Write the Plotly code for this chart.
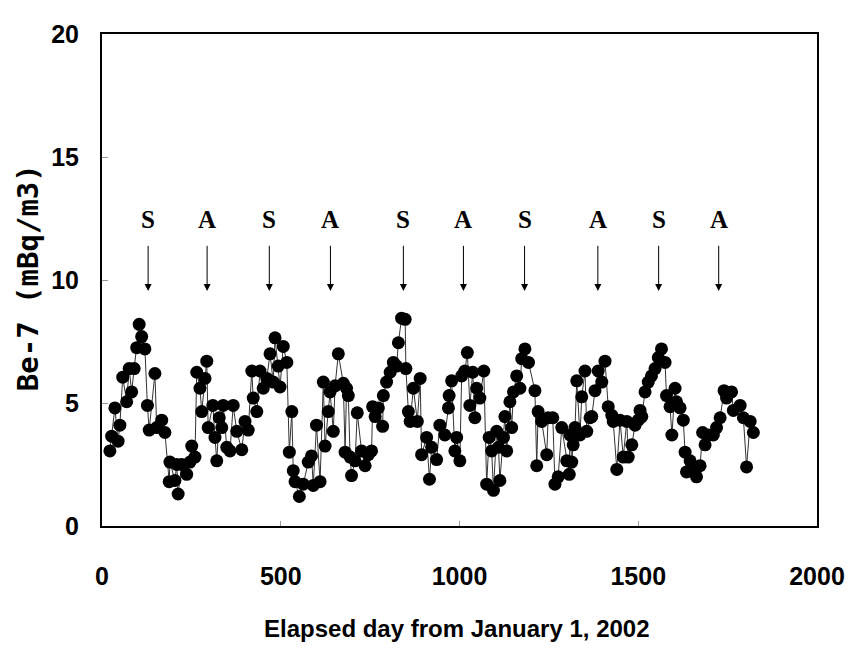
import plotly.graph_objects as go

# elapsed day and Be-7 concentration (mBq/m3)
days = [22, 27, 36, 45, 50, 58, 69, 76, 83, 90, 97, 104, 111, 120, 127, 132, 148, 153,
        167, 176, 188, 190, 204, 209, 213, 223, 237, 246, 251, 260, 265, 274, 279, 288,
        293, 297, 310, 316, 321, 328, 335, 339, 349, 358, 367, 377, 391, 400, 409, 419,
        423, 433, 442, 451, 461, 470, 479, 484, 493, 498, 507, 517, 524, 531, 535, 540,
        552, 563, 577, 586, 591, 600, 610, 619, 624, 633, 638, 647, 652, 661, 675, 680,
        684, 689, 694, 698, 708, 714, 726, 736, 745, 754, 757, 764, 773, 785, 787, 796,
        806, 815, 824, 829, 838, 848, 850, 857, 862, 871, 882, 890, 894, 908, 916, 922,
        936, 945, 959, 969, 971, 978, 987, 992, 1001, 1006, 1015, 1022, 1029, 1037, 1043,
        1048, 1057, 1068, 1076, 1083, 1090, 1095, 1104, 1109, 1113, 1123, 1127, 1132,
        1141, 1146, 1151, 1160, 1169, 1174, 1183, 1193, 1211, 1216, 1220, 1230, 1244,
        1248, 1261, 1267, 1276, 1286, 1300, 1307, 1309, 1314, 1318, 1323, 1328, 1337,
        1342, 1351, 1356, 1365, 1370, 1379, 1388, 1398, 1407, 1416, 1426, 1430, 1440,
        1449, 1458, 1468, 1472, 1482, 1491, 1500, 1505, 1510, 1519, 1528, 1537, 1547,
        1556, 1565, 1575, 1579, 1589, 1594, 1603, 1607, 1617, 1626, 1631, 1635, 1645,
        1654, 1663, 1673, 1680, 1687, 1696, 1710, 1719, 1729, 1740, 1747, 1761, 1766,
        1785, 1794, 1803, 1813, 1822]
be7 = [3.05, 3.65, 4.8, 3.45, 4.1, 6.05, 5.05, 6.4, 5.45, 6.4, 7.25, 8.2, 7.7, 7.2, 4.9,
       3.9, 6.2, 4.0, 4.3, 3.8, 1.8, 2.6, 1.85, 2.5, 1.3, 2.5, 2.1, 2.6, 3.25, 2.8, 6.25,
       5.6, 4.65, 6.0, 6.7, 4.0, 4.9, 3.6, 2.65, 4.4, 4.0, 4.9, 3.2, 3.05, 4.9, 3.85, 3.1,
       4.25, 3.9, 6.3, 5.2, 4.65, 6.3, 5.6, 6.0, 7.0, 5.85, 7.65, 6.5, 5.65, 7.3, 6.65,
       3.0, 4.65, 2.25, 1.8, 1.2, 1.7, 2.6, 2.85, 1.65, 4.1, 1.8, 5.85, 3.25, 4.65, 5.45,
       3.85, 5.7, 7.0, 5.8, 3.0, 5.6, 5.3, 2.8, 2.05, 2.65, 4.6, 3.05, 2.45, 2.9, 3.05,
       4.85, 4.45, 4.8, 4.05, 5.3, 5.85, 6.25, 6.65, 6.5, 7.45, 8.45, 8.4, 6.4, 4.65, 4.25,
       5.6, 4.25, 6.0, 2.9, 3.6, 1.9, 3.2, 2.7, 4.1, 3.7, 4.8, 5.3, 5.9, 3.05, 3.6, 2.65,
       6.1, 6.3, 7.05, 4.9, 6.25, 4.4, 5.6, 5.2, 6.3, 1.7, 3.6, 3.05, 1.45, 3.85, 3.2,
       1.85, 3.6, 4.45, 3.05, 5.05, 4.0, 5.45, 6.1, 5.6, 6.8, 7.2, 6.65, 5.5, 2.45, 4.65,
       4.25, 2.9, 4.4, 4.4, 1.7, 2.0, 4.0, 2.65, 2.1, 3.7, 2.6, 3.3, 4.0, 5.9, 3.7, 5.25,
       6.3, 3.85, 4.4, 4.45, 5.5, 6.3, 5.85, 6.7, 4.85, 4.5, 4.25, 2.3, 4.3, 2.8, 4.25,
       2.8, 3.3, 4.1, 4.3, 4.7, 4.45, 5.45, 5.85, 6.1, 6.4, 6.85, 7.2, 6.65, 5.3, 4.85,
       3.7, 5.6, 5.05, 4.8, 4.3, 3.0, 2.2, 2.65, 2.4, 2.0, 2.45, 3.8, 3.3, 3.7, 3.7, 4.0,
       4.4, 5.5, 5.2, 5.45, 4.7, 4.9, 4.4, 2.4, 4.25, 3.8]

# season markers: S = spring, A = autumn
event_days = [129, 294, 468, 639, 843, 1011, 1182, 1387, 1557, 1725]
event_labels = ["S", "A", "S", "A", "S", "A", "S", "A", "S", "A"]

fig = go.Figure()
fig.add_trace(go.Scatter(
    x=days, y=be7, mode="lines+markers",
    line=dict(color="#333333", width=1),
    marker=dict(color="black", size=13),
    showlegend=False,
))

for d, lab in zip(event_days, event_labels):
    fig.add_annotation(x=d, y=12.45, text=lab, showarrow=False,
                       font=dict(family="Liberation Serif", size=25, color="black", weight="bold"))
    fig.add_annotation(x=d, y=9.55, ax=d, ay=11.45, axref="x", ayref="y",
                       text="", showarrow=True, arrowhead=2, arrowsize=1.4,
                       arrowwidth=1, arrowcolor="black")

tick_font = dict(family="Liberation Sans", size=25, color="black", weight="bold")
fig.update_xaxes(range=[0, 2000], tickvals=[0, 500, 1000, 1500, 2000],
                 showline=True, linecolor="black", linewidth=2, mirror=True,
                 ticks="inside", ticklen=5, tickcolor="#999999",
                 showgrid=False, zeroline=False, tickfont=tick_font,
                 ticklabelstandoff=27)
fig.update_yaxes(range=[0, 20], tickvals=[0, 5, 10, 15, 20],
                 showline=True, linecolor="black", linewidth=2, mirror=True,
                 ticks="inside", ticklen=6, tickcolor="#999999",
                 showgrid=False, zeroline=False, tickfont=tick_font,
                 ticklabelstandoff=16)

fig.add_annotation(x=0.497, y=-0.208, xref="paper", yref="paper",
                   xanchor="center", yanchor="middle",
                   text="Elapsed day from January 1, 2002", showarrow=False,
                   font=dict(family="Liberation Sans", size=24, color="black", weight="bold"))
fig.add_annotation(x=-0.104, y=0.505, xref="paper", yref="paper",
                   xanchor="center", yanchor="middle",
                   text="Be-7 (mBq/m3)", showarrow=False, textangle=-90,
                   font=dict(family="DejaVu Sans Mono", size=29, color="black", weight="bold"))

# the page body adds an 8px offset, so the figure is 8px smaller than the window
fig.update_layout(
    width=851, height=645,
    margin=dict(l=94, r=42, t=19, b=127),
    plot_bgcolor="white", paper_bgcolor="white",
)

fig.write_html("out.html")
